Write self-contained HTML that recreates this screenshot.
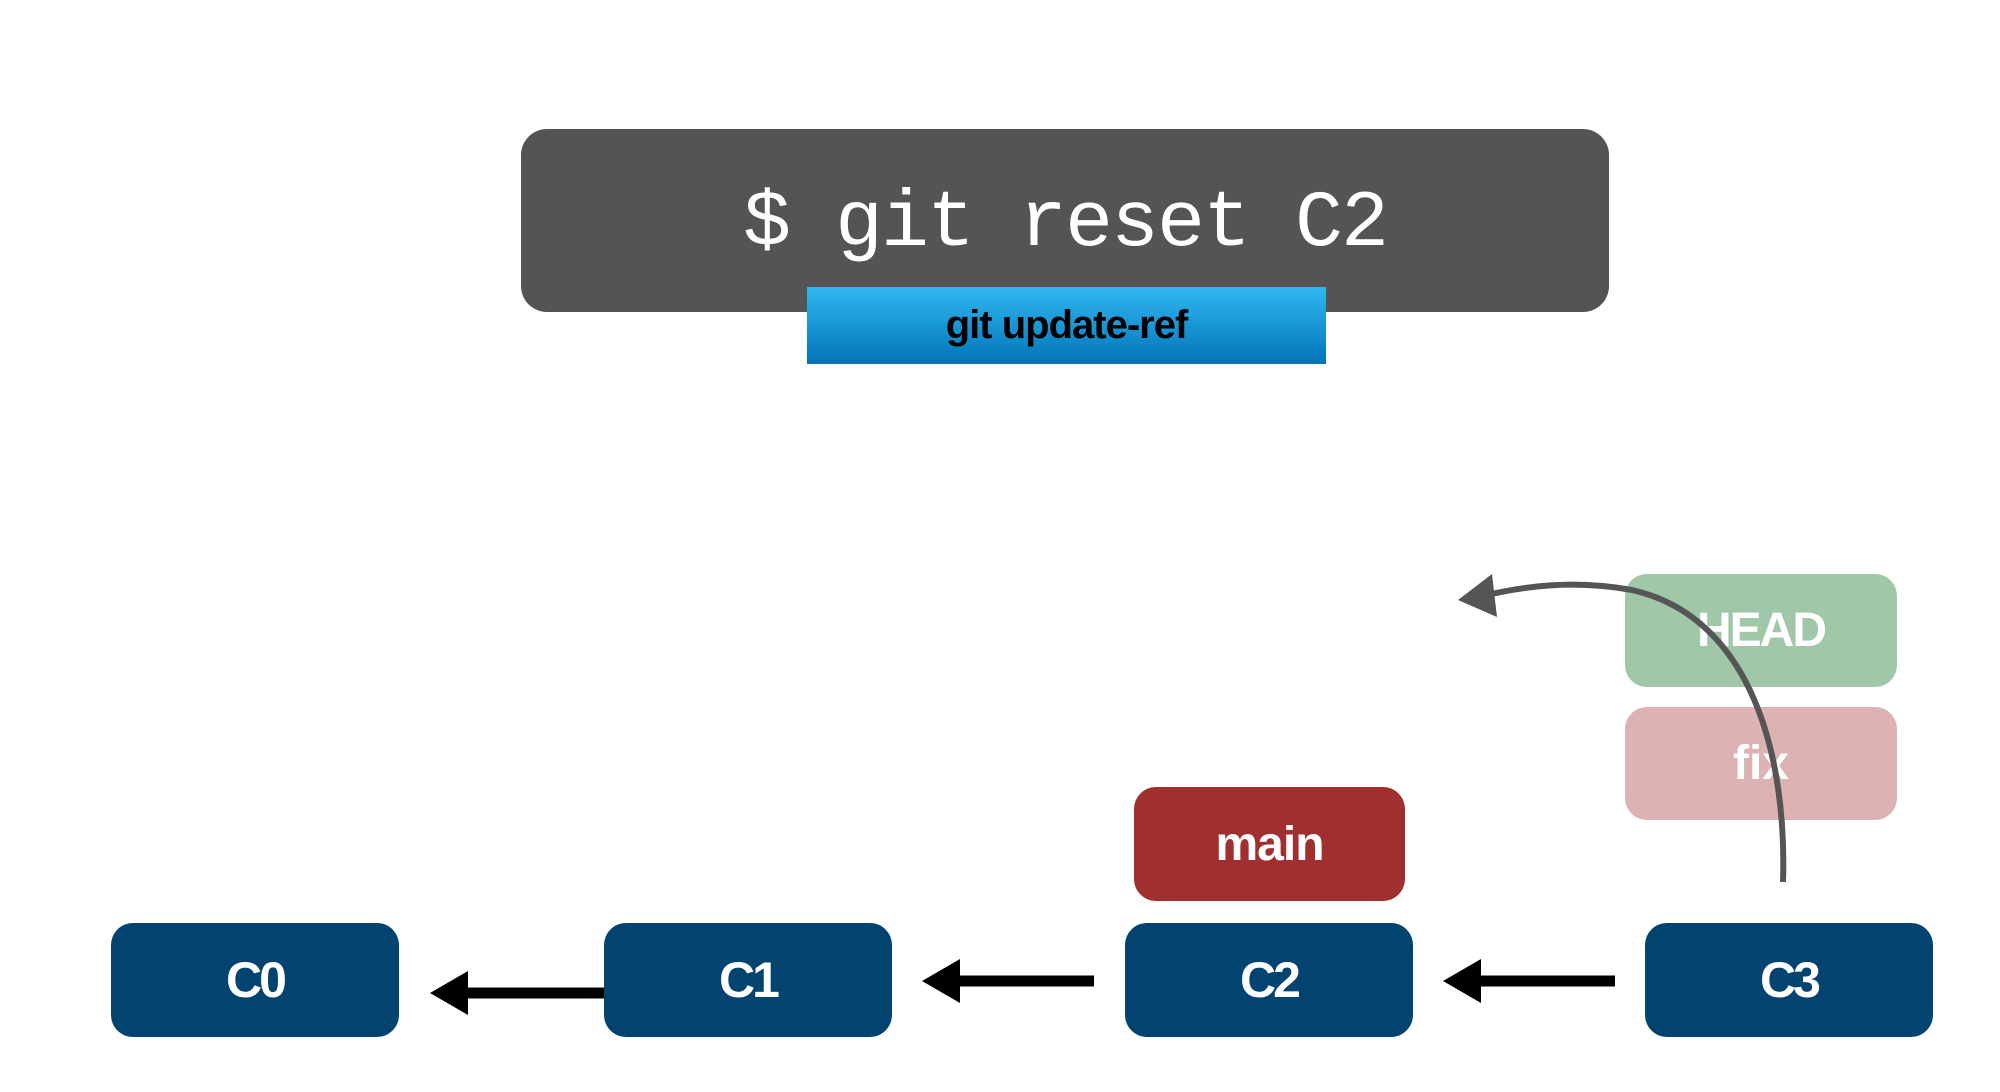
<!DOCTYPE html>
<html><head><style>
body{margin:0;width:2000px;height:1092px;background:#fff;position:relative;overflow:hidden;font-family:"Liberation Sans",sans-serif}
.b{position:absolute;display:flex;align-items:center;justify-content:center;color:#fff;font-weight:bold;border-radius:22px}
.c{background:#02446f;font-size:50px;width:288px;height:114px;top:923px;letter-spacing:-3px}
</style></head><body>
<div class="b" style="left:521px;top:129px;width:1088px;height:183px;background:#545454;border-radius:26px;font-family:'Liberation Mono',monospace;font-weight:normal;font-size:80px;letter-spacing:-2px;padding-top:8px;box-sizing:border-box">$ git reset C2</div>
<div class="b" style="left:807px;top:287px;width:519px;height:77px;border-radius:0;background:linear-gradient(#30b8f2,#0274b8);color:#000;font-size:40px;letter-spacing:-1px">git update-ref</div>
<div class="b" style="left:1625px;top:574px;width:272px;height:113px;background:#a0c8a8;font-size:48px;letter-spacing:-2px">HEAD</div>
<div class="b" style="left:1625px;top:707px;width:272px;height:113px;background:#dcb2b2;font-size:48px">fix</div>
<div class="b" style="left:1134px;top:787px;width:271px;height:114px;background:#a03030;font-size:48px;letter-spacing:-1px">main</div>
<div class="b c" style="left:111px">C0</div>
<div class="b c" style="left:604px">C1</div>
<div class="b c" style="left:1125px">C2</div>
<div class="b c" style="left:1645px">C3</div>
<svg width="2000" height="1092" style="position:absolute;left:0;top:0">
<g fill="#000" stroke="#000">
<line x1="604" y1="993" x2="458" y2="993" stroke-width="11"/>
<polygon points="430,993 468,971 468,1015" stroke="none"/>
<line x1="1094" y1="981" x2="951" y2="981" stroke-width="11"/>
<polygon points="922,981 960,959 960,1003" stroke="none"/>
<line x1="1615" y1="981" x2="1472" y2="981" stroke-width="11"/>
<polygon points="1443,981 1481,959 1481,1003" stroke="none"/>
</g>
<path d="M1783,882 C1787,757 1752,617 1632,590 C1572,579 1522,587 1487,595" fill="none" stroke="#555" stroke-width="6"/>
<polygon points="1458,600 1492,574 1497,617" fill="#555"/>
</svg>
</body></html>
